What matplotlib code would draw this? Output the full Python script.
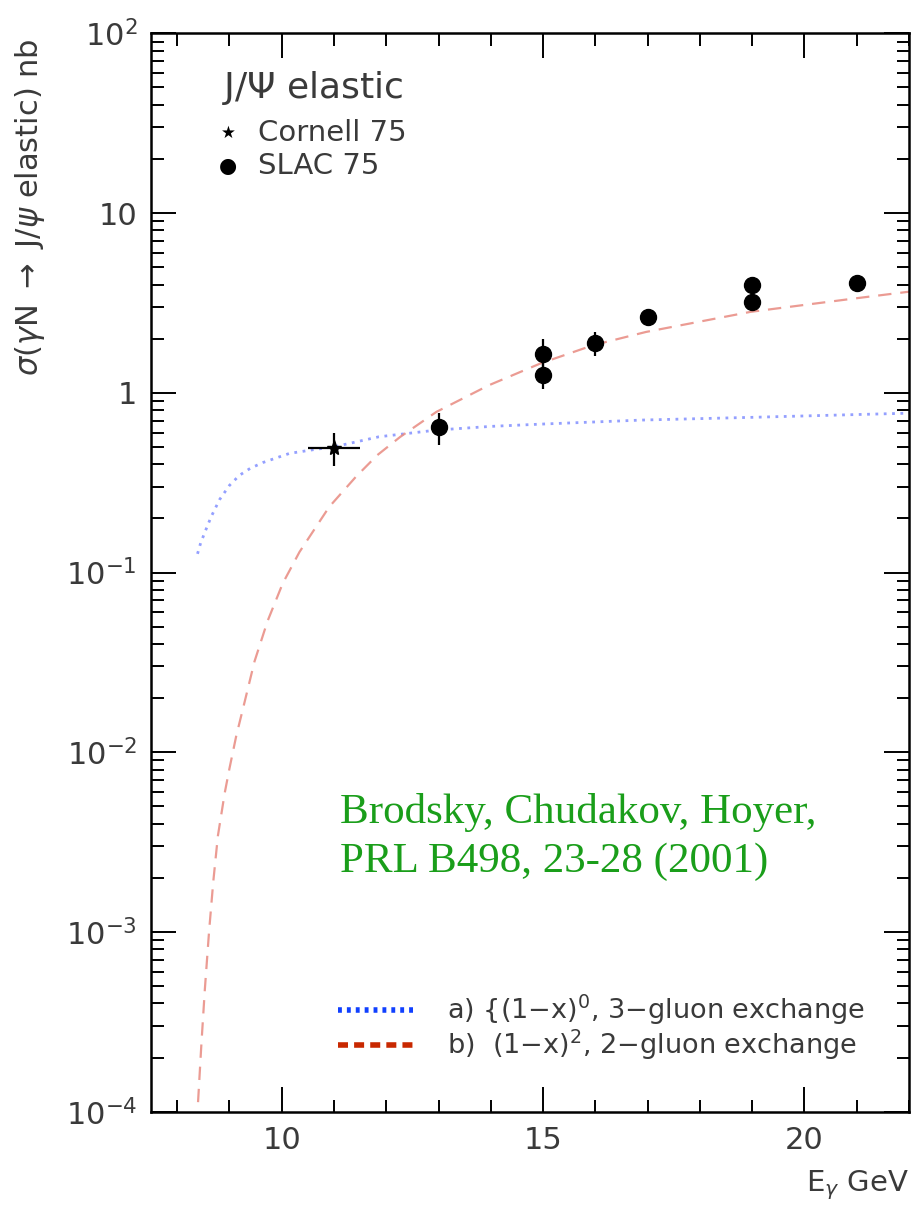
import matplotlib
matplotlib.use("Agg")
import matplotlib.pyplot as plt
from matplotlib.ticker import FixedLocator, MultipleLocator, LogLocator, NullFormatter

# SLAC 75 points (E_gamma in GeV, sigma in nb)
slac_e = [13.0, 15.0, 15.0, 16.0, 17.0, 19.0, 19.0, 21.0]
slac_sig = [0.647, 1.64, 1.25, 1.88, 2.65, 3.97, 3.18, 4.09]
slac_err_lo = [0.135, 0.25, 0.20, 0.28, 0.0, 0.0, 0.0, 0.0]
slac_err_hi = [0.127, 0.34, 0.25, 0.30, 0.0, 0.0, 0.0, 0.0]

# Cornell 75 point
cornell_e = [11.0]
cornell_sig = [0.494]
cornell_xerr = [0.5]
cornell_err_lo = [0.103]
cornell_err_hi = [0.105]

# curve a) (1-x)^0, 3-gluon exchange
gl3_e = [8.39, 8.45, 8.56, 8.65, 8.81, 9.0, 9.19, 9.4, 9.64, 10.15, 10.66,
         11.0, 11.86, 12.96, 14.0, 15.0, 16.9, 19.0, 22.0]
gl3_sig = [0.127, 0.146, 0.176, 0.204, 0.254, 0.305, 0.347, 0.38, 0.409,
           0.46, 0.485, 0.50, 0.569, 0.62, 0.65, 0.67, 0.705, 0.73, 0.77]

# curve b) (1-x)^2, 2-gluon exchange
gl2_e = [8.40, 8.465, 8.53, 8.61, 8.69, 8.78, 8.91, 9.00, 9.13, 9.29, 9.48,
         9.73, 10.02, 10.34, 10.91, 11.42, 11.83, 12.27, 12.96, 13.96, 14.96,
         15.96, 16.97, 18.97, 20.97, 22.0]
gl2_sig = [1.13e-4, 2.41e-4, 4.79e-4, 1.0e-3, 1.89e-3, 3.43e-3, 5.93e-3,
           8.1e-3, 1.23e-2, 1.9e-2, 3.2e-2, 5.37e-2, 0.087, 0.130, 0.232,
           0.341, 0.45, 0.569, 0.783, 1.10, 1.46, 1.84, 2.18, 2.82, 3.35, 3.65]

y_ticks = [1e-4, 1e-3, 1e-2, 1e-1, 1, 10, 100]
y_ticklabels = ["$10^{-4}$", "$10^{-3}$", "$10^{-2}$", "$10^{-1}$", "1", "10", "$10^{2}$"]

W, H = 914, 1206
plt.rcParams["mathtext.fontset"] = "dejavusans"
fig = plt.figure(figsize=(W / 100, H / 100), dpi=100)
ax = fig.add_axes([151 / W, 1 - 1111.7 / H, (909 - 151) / W, (1111.7 - 33.3) / H])

txt = "#3a3a3a"

ax.plot(gl3_e, gl3_sig, color="#7080ff", lw=2.0, ls=(0, (1, 2)), alpha=0.75)
ax.plot(gl2_e, gl2_sig, color="#e88a80", lw=1.6, ls=(0, (6, 4)), alpha=0.85)

ax.errorbar(slac_e, slac_sig, yerr=[slac_err_lo, slac_err_hi], fmt="o",
            color="black", ms=11.5, elinewidth=1.6, capsize=0)
ax.errorbar(cornell_e, cornell_sig, xerr=cornell_xerr,
            yerr=[cornell_err_lo, cornell_err_hi], fmt="*", color="black",
            ms=11, elinewidth=1.6, capsize=0)

ax.set_yscale("log")
ax.set_xlim(7.5, 22.0)
ax.set_ylim(1e-4, 1e2)

ax.xaxis.set_major_locator(MultipleLocator(5))
ax.xaxis.set_minor_locator(MultipleLocator(1))
ax.yaxis.set_major_locator(FixedLocator(y_ticks))
ax.yaxis.set_minor_locator(LogLocator(base=10, subs=range(2, 10), numticks=20))
ax.yaxis.set_minor_formatter(NullFormatter())
ax.set_yticklabels(y_ticklabels)

ax.tick_params(which="both", direction="in", top=True, right=True,
               width=1.4, colors="black", labelcolor=txt, labelsize=22)
ax.tick_params(which="major", length=18, pad=10)
ax.tick_params(which="minor", length=9)
for s in ax.spines.values():
    s.set_linewidth(1.8)

# axis titles
fig.text(30 / W, 1 - 38 / H, r"$\sigma$($\gamma$N $\rightarrow$ J/$\psi$ elastic) nb",
         rotation=90, ha="center", va="top", fontsize=22, color=txt)
fig.text(909 / W, 1 - 1185 / H, r"E$_\gamma$ GeV", ha="right", va="center",
         fontsize=21, color=txt)

# upper legend
fig.text(222 / W, 1 - 88 / H, r"J/$\Psi$ elastic", fontsize=26, color=txt,
         va="center")
fig.text(228 / W, 1 - 133 / H, "\u2605", ha="center", va="center", fontsize=12,
         color="black")
fig.text(258 / W, 1 - 133 / H, "Cornell 75", va="center", fontsize=21, color=txt)
fig.text(228 / W, 1 - 166 / H, "\u25CF", ha="center", va="center", fontsize=15,
         color="black")
fig.text(258 / W, 1 - 166 / H, "SLAC 75", va="center", fontsize=21, color=txt)

# reference
fig.text(340 / W, 1 - 812 / H, "Brodsky, Chudakov, Hoyer,", family="Liberation Serif",
         fontsize=31, color="#1a9e1a", va="center")
fig.text(340 / W, 1 - 862 / H, "PRL B498, 23-28 (2001)", family="Liberation Serif",
         fontsize=31, color="#1a9e1a", va="center")

# lower legend
y1, y2 = 1 - 1010 / H, 1 - 1045 / H
fig.add_artist(plt.Line2D([338 / W, 418 / W], [y1, y1], color="#1040ff", lw=4,
                          ls=(0, (0.7, 0.9))))
fig.add_artist(plt.Line2D([338 / W, 418 / W], [y2, y2], color="#c82800", lw=4,
                          ls=(0, (1.8, 1.1))))
fig.text(447 / W, y1, "a) {(1\u2212x)$^0$, 3\u2212gluon exchange", va="center",
         fontsize=19.5, color=txt)
fig.text(447 / W, y2, "b)  (1\u2212x)$^2$, 2\u2212gluon exchange", va="center",
         fontsize=19.5, color=txt)

fig.savefig("out.png", dpi=100)
